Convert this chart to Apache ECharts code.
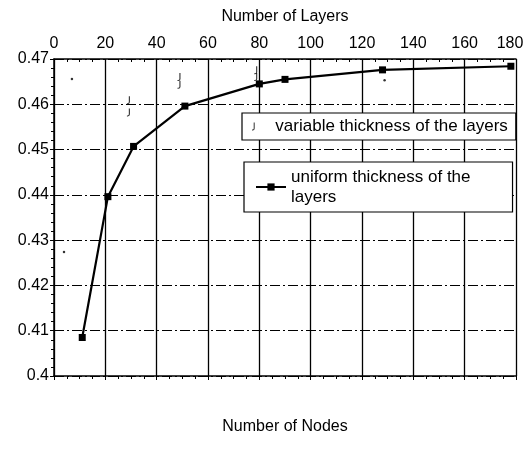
<!DOCTYPE html>
<html>
<head>
<meta charset="utf-8">
<script src="https://cdn.jsdelivr.net/npm/echarts@6/dist/echarts.min.js"></script>
<style>html,body{margin:0;padding:0;background:#fff}#c{width:525px;height:463px}</style>
</head>
<body>
<div id="c"></div>
<script>
// Data
var xTicks = [0, 20, 40, 60, 80, 100, 120, 140, 160, 180];
var yTicks = [0.4, 0.41, 0.42, 0.43, 0.44, 0.45, 0.46, 0.47];
var uniformLayers = [11, 21, 31, 51, 80, 90, 128, 178];
var uniformValues = [0.4085, 0.4396, 0.4507, 0.4596, 0.4645, 0.4655, 0.4676, 0.4684];
var variableLayers = [29, 29, 48.7, 48.7, 78.6, 78.6];
var variableValues = [0.4609, 0.4582, 0.4660, 0.4643, 0.4675, 0.4660];
var dotLayers = [7, 128.8, 3.9];
var dotValues = [0.4656, 0.4653, 0.4274];

var FONT = 'Liberation Sans, Arial, sans-serif';
var glyph = 'path://M2,0 L3.2,0 L3.2,7 Q3.2,9.5 0.8,9.5 L0,9.5 L0,8.3 L0.8,8.3 Q2,8.3 2,7 Z';
var xMax = xTicks[xTicks.length - 1];

function pairs(xs, ys) { return xs.map(function (x, i) { return [x, ys[i]]; }); }

var chart = echarts.init(document.getElementById('c'), null, { renderer: 'canvas' });
chart.setOption({
  animation: false,
  backgroundColor: '#fff',
  textStyle: { fontFamily: FONT },
  grid: { left: 54, right: 9, top: 59, bottom: 87, containLabel: false, outerBoundsMode: 'none' },
  xAxis: [{
    type: 'value', position: 'top', min: xTicks[0], max: xMax, interval: 20,
    name: 'Number of Layers', nameLocation: 'middle', nameGap: 34,
    nameTextStyle: { fontSize: 16, color: '#000', fontFamily: FONT },
    axisLine: { show: true, lineStyle: { color: '#000', width: 1.5 } },
    axisTick: { show: true, inside: true, length: 5, lineStyle: { color: '#000' } },
    minorTick: { show: true, splitNumber: 4, length: 3, lineStyle: { color: '#000' } },
    axisLabel: {
      fontSize: 16, color: '#000', margin: 7, fontFamily: FONT,
      formatter: function (v) { return v === xMax ? '{last|' + v + '}' : String(v); },
      rich: { last: { fontSize: 16, color: '#000', fontFamily: FONT, padding: [0, 12, 0, 0] } }
    },
    splitLine: { show: true, lineStyle: { color: '#000', width: 1.3 } }
  }, {
    type: 'value', position: 'bottom', min: xTicks[0], max: xMax, interval: 20,
    name: 'Number of Nodes', nameLocation: 'middle', nameGap: 43,
    nameTextStyle: { fontSize: 16, color: '#000', fontFamily: FONT },
    axisLine: { show: true, lineStyle: { color: '#000', width: 1.5 } },
    axisTick: { show: true, inside: false, length: 4, lineStyle: { color: '#000' } },
    minorTick: { show: true, splitNumber: 4, length: 3, lineStyle: { color: '#000' } },
    axisLabel: { show: false },
    splitLine: { show: false }
  }],
  yAxis: {
    type: 'value', min: yTicks[0], max: yTicks[yTicks.length - 1], interval: 0.01,
    axisLine: { show: true, lineStyle: { color: '#000', width: 1.5 } },
    axisTick: { show: true, inside: false, length: 4, lineStyle: { color: '#000' } },
    minorTick: { show: true, splitNumber: 5, length: 3, lineStyle: { color: '#000' } },
    axisLabel: {
      fontSize: 16, color: '#000', margin: 5, fontFamily: FONT,
      formatter: function (v) { return String(+v.toFixed(2)); }
    },
    splitLine: { show: true, lineStyle: { color: '#000', width: 1, type: [10, 3, 2, 3] } }
  },
  legend: [{
    data: [{ name: 'variable thickness of the layers', icon: glyph }],
    left: 242, top: 113, orient: 'vertical',
    itemWidth: 18, itemHeight: 8,
    padding: [5, 8, 5, 10],
    backgroundColor: '#fff', borderColor: '#000', borderWidth: 1.2,
    textStyle: { fontSize: 17, color: '#000', fontFamily: FONT, padding: [0, 0, 0, 8] },
    itemStyle: { color: '#000' }
  }, {
    data: ['uniform'],
    left: 244, top: 162, orient: 'vertical',
    itemWidth: 30, itemHeight: 9,
    padding: [5, 42, 5, 11],
    backgroundColor: '#fff', borderColor: '#000', borderWidth: 1.2,
    formatter: function () { return 'uniform thickness of the\nlayers'; },
    textStyle: { fontSize: 17, color: '#000', fontFamily: FONT, lineHeight: 20 }
  }],
  series: [{
    name: 'uniform', type: 'line', xAxisIndex: 0,
    data: pairs(uniformLayers, uniformValues),
    symbol: 'rect', symbolSize: 7,
    lineStyle: { color: '#000', width: 2.2 },
    itemStyle: { color: '#000' },
    z: 5
  }, {
    name: 'variable thickness of the layers', type: 'scatter', xAxisIndex: 0,
    data: pairs(variableLayers, variableValues),
    symbol: glyph, symbolSize: [3, 8],
    itemStyle: { color: '#000' }, z: 4
  }, {
    name: 'dots', type: 'scatter', xAxisIndex: 0,
    data: pairs(dotLayers, dotValues),
    symbol: 'circle', symbolSize: 2.5,
    itemStyle: { color: '#000' }, z: 4
  }]
});
</script>
</body>
</html>
